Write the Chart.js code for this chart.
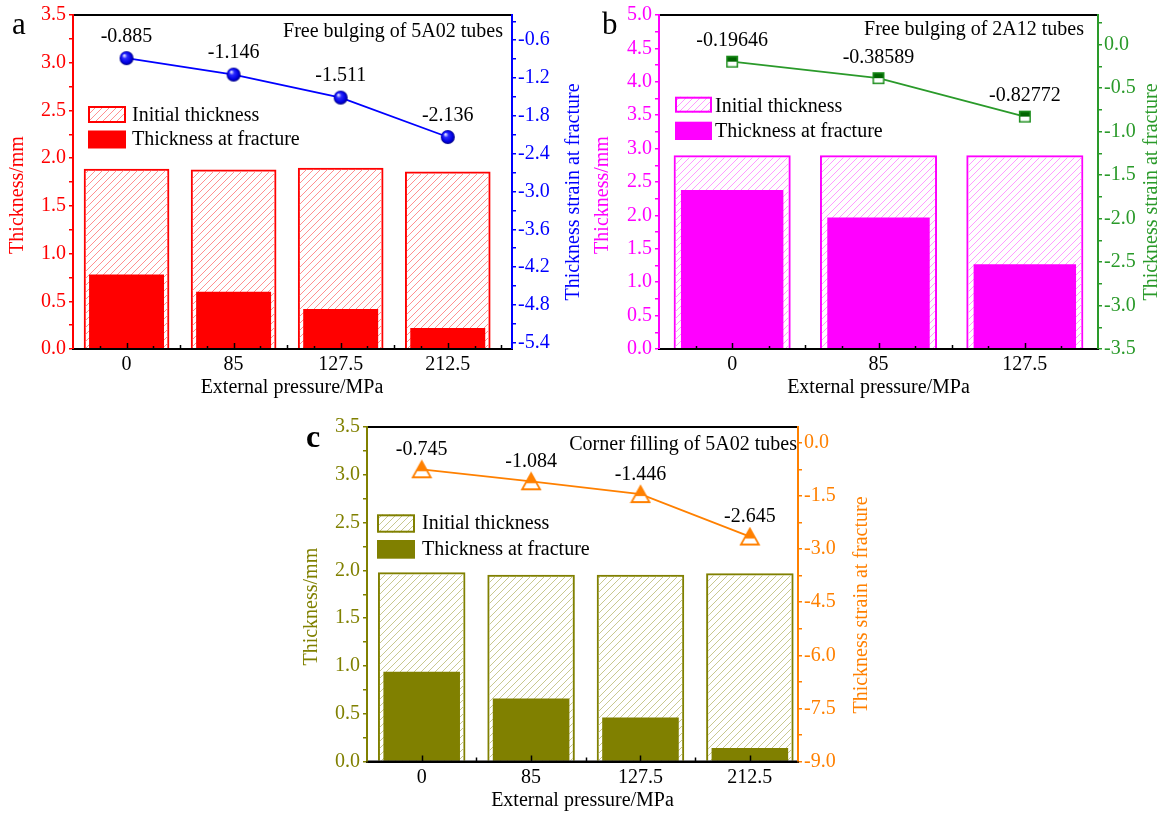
<!DOCTYPE html>
<html>
<head>
<meta charset="utf-8">
<script src="https://cdn.jsdelivr.net/npm/chart.js@4.4.1/dist/chart.umd.min.js"></script>
<style>
  html, body { margin: 0; padding: 0; background: #fff; }
  body { width: 1162px; height: 814px; position: relative; overflow: hidden; }
  canvas { position: absolute; }
</style>
</head>
<body>
<canvas id="ca" width="600" height="400" style="left:0px;top:0px"></canvas>
<canvas id="cb" width="581" height="400" style="left:581px;top:0px"></canvas>
<canvas id="cc" width="600" height="414" style="left:280px;top:400px"></canvas>
<script>
// ---- (a) free bulging of 5A02 tubes ----
const pressuresA = ['0', '85', '127.5', '212.5'];
const initialA = [1.89, 1.88, 1.90, 1.86];
const fractureA = [0.78, 0.60, 0.42, 0.22];
const strainA = [-0.885, -1.146, -1.511, -2.136];
const leftTicksA = [0.0, 0.5, 1.0, 1.5, 2.0, 2.5, 3.0, 3.5];
const rightTicksA = [-5.4, -4.8, -4.2, -3.6, -3.0, -2.4, -1.8, -1.2, -0.6];

// ---- (b) free bulging of 2A12 tubes ----
const pressuresB = ['0', '85', '127.5'];
const initialB = [2.90, 2.90, 2.90];
const fractureB = [2.38, 1.97, 1.27];
const strainB = [-0.19646, -0.38589, -0.82772];
const leftTicksB = [0.0, 0.5, 1.0, 1.5, 2.0, 2.5, 3.0, 3.5, 4.0, 4.5, 5.0];
const rightTicksB = [-3.5, -3.0, -2.5, -2.0, -1.5, -1.0, -0.5, 0.0];

// ---- (c) corner filling of 5A02 tubes ----
const pressuresC = ['0', '85', '127.5', '212.5'];
const initialC = [1.98, 1.955, 1.955, 1.97];
const fractureC = [0.94, 0.66, 0.46, 0.14];
const strainC = [-0.745, -1.084, -1.446, -2.645];
const leftTicksC = [0.0, 0.5, 1.0, 1.5, 2.0, 2.5, 3.0, 3.5];
const rightTicksC = [-9.0, -7.5, -6.0, -4.5, -3.0, -1.5, 0.0];

const SERIF = '"Liberation Serif", "Times New Roman", serif';

// diagonal hatch used for the initial-thickness bars
function hatchPattern(color) {
  const s = 7;
  const c = document.createElement('canvas');
  c.width = s; c.height = s;
  const g = c.getContext('2d');
  g.strokeStyle = color;
  g.lineWidth = 1;
  g.beginPath();
  g.moveTo(0, s); g.lineTo(s, 0);
  g.moveTo(-1, 1); g.lineTo(1, -1);
  g.moveTo(s - 1, s + 1); g.lineTo(s + 1, s - 1);
  g.stroke();
  return g.createPattern(c, 'repeat');
}

// shaded ball marker
function sphereMarker(r) {
  const c = document.createElement('canvas');
  c.width = c.height = 2 * r + 2;
  const g = c.getContext('2d');
  const cx = r + 1, cy = r + 1;
  const grd = g.createRadialGradient(cx - r * 0.35, cy - r * 0.4, r * 0.08, cx, cy, r);
  grd.addColorStop(0, '#e0e0ff');
  grd.addColorStop(0.3, '#2a2aff');
  grd.addColorStop(0.75, '#0000e0');
  grd.addColorStop(1, '#000080');
  g.fillStyle = grd;
  g.beginPath(); g.arc(cx, cy, r, 0, Math.PI * 2); g.fill();
  return c;
}

// square marker, upper half filled
function halfSquare(size, fill, edge) {
  const c = document.createElement('canvas');
  c.width = c.height = size + 2;
  const g = c.getContext('2d');
  g.fillStyle = '#fff'; g.fillRect(1, 1, size, size);
  g.fillStyle = fill; g.fillRect(1, 1, size, size / 2);
  g.strokeStyle = edge; g.lineWidth = 1.5;
  g.strokeRect(1.75, 1.75, size - 1.5, size - 1.5);
  return c;
}

// up triangle marker, upper part filled
function halfTriangle(w, h, color) {
  const c = document.createElement('canvas');
  c.width = w + 4; c.height = h + 4;
  const g = c.getContext('2d');
  const path = () => { g.beginPath(); g.moveTo(w / 2 + 2, 2); g.lineTo(w + 2, h + 2); g.lineTo(2, h + 2); g.closePath(); };
  path(); g.fillStyle = '#fff'; g.fill();
  g.save(); path(); g.clip();
  g.fillStyle = color; g.fillRect(0, 0, w + 4, 2 + h * 0.62);
  g.restore();
  path(); g.strokeStyle = color; g.lineWidth = 1.8; g.lineJoin = 'miter'; g.stroke();
  return c;
}

function withMinor(majors, min, max) {
  const step = majors[1] - majors[0];
  const all = majors.slice();
  majors.forEach(m => all.push(m + step / 2));
  all.push(majors[0] - step / 2);
  return all.filter(v => v >= min - 1e-9 && v <= max + 1e-9).sort((a, b) => a - b);
}
const isMajor = (v, majors) => majors.some(t => Math.abs(t - v) < 1e-6);

const panels = [
  {
    id: 'ca', box: { x: 0, y: 0 }, area: { l: 73, t: 15, r: 512, b: 349 },
    labels: pressuresA, initial: initialA, fracture: fractureA, strain: strainA,
    xMin: -0.5, xMax: 3.6, xMinor: 0.25,
    left: { min: 0, max: 3.5, ticks: leftTicksA, color: '#ff0000' },
    right: { min: -5.5, max: -0.2, ticks: rightTicksA, color: '#0000ff' },
    solid: '#ff0000', hatch: '#ff9090', line: '#0000ff', marker: sphereMarker(7),
    letter: { text: 'a', x: 12, y: 34, bold: false },
    title: { text: 'Free bulging of 5A02 tubes', right: 503, y: 36.5 },
    legend: { x: 88, w: 38, y1: 106, h1: 17, y2: 130.5, h2: 18, tx: 132, b1: 121, b2: 145 },
    leftTitle: { x: 18, y: 195 }, rightTitle: { x: 574, y: 192 }, xTitle: { x: 292, y: 392.5 },
    labelDy: -16.5
  },
  {
    id: 'cb', box: { x: 581, y: 0 }, area: { l: 659, t: 15, r: 1098, b: 349 },
    labels: pressuresB, initial: initialB, fracture: fractureB, strain: strainB,
    xMin: -0.5, xMax: 2.5, xMinor: 0.25,
    left: { min: 0, max: 5.0, ticks: leftTicksB, color: '#ff00ff' },
    right: { min: -3.5, max: 0.34, ticks: rightTicksB, color: '#2a9a2a' },
    solid: '#ff00ff', hatch: '#ff9cff', line: '#2a9a2a', marker: halfSquare(12, '#006400', '#1f8f1f'),
    letter: { text: 'b', x: 602, y: 34, bold: false },
    title: { text: 'Free bulging of 2A12 tubes', right: 1084, y: 35 },
    legend: { x: 675, w: 37, y1: 96.7, h1: 16, y2: 121.7, h2: 18.3, tx: 715, b1: 111.7, b2: 136.7 },
    leftTitle: { x: 603, y: 195 }, rightTitle: { x: 1152, y: 192 }, xTitle: { x: 878.5, y: 392.5 },
    labelDy: -15.5
  },
  {
    id: 'cc', box: { x: 280, y: 400 }, area: { l: 367, t: 427, r: 798, b: 761.5 },
    labels: pressuresC, initial: initialC, fracture: fractureC, strain: strainC,
    xMin: -0.5, xMax: 3.44, xMinor: 0.5,
    left: { min: 0, max: 3.5, ticks: leftTicksC, color: '#808000' },
    right: { min: -9.0, max: 0.45, ticks: rightTicksC, color: '#ff8000' },
    solid: '#808000', hatch: '#c8c890', line: '#ff8000', marker: halfTriangle(18, 16, '#ff8000'),
    letter: { text: 'c', x: 306, y: 447, bold: true },
    title: { text: 'Corner filling of 5A02 tubes', right: 797, y: 450 },
    legend: { x: 377, w: 38, y1: 514.3, h1: 18.4, y2: 540, h2: 18.7, tx: 422, b1: 529.3, b2: 555 },
    leftTitle: { x: 312, y: 606.7 }, rightTitle: { x: 862, y: 605 }, xTitle: { x: 582.5, y: 806 },
    labelDy: -14.5
  }
];

function decor(p) {
  const ox = p.box.x, oy = p.box.y;
  const seg = (ctx, x1, y1, x2, y2) => { ctx.beginPath(); ctx.moveTo(x1, y1); ctx.lineTo(x2, y2); ctx.stroke(); };
  return {
    id: 'decor_' + p.id,
    afterDatasetsDraw(chart) {
      const ctx = chart.ctx, ca = chart.chartArea, xs = chart.scales.x;
      ctx.save();
      // inward ticks on the pressure axis
      ctx.strokeStyle = '#000';
      ctx.lineWidth = 1.5;
      ctx.lineCap = 'butt';
      for (let k = 1; ; k++) {
        const v = xs.min + k * p.xMinor;
        if (v >= xs.max - 1e-6) break;
        const frac = Math.abs(v - Math.round(v));
        const len = frac < 1e-6 ? 6 : (Math.abs(frac - 0.5) < 1e-6 ? 4 : 3);
        const px = Math.round(xs.getPixelForValue(v)) + 0.5;
        seg(ctx, px, ca.bottom, px, ca.bottom - len);
      }
      // frame
      ctx.lineWidth = 2;
      ctx.strokeStyle = '#000';
      seg(ctx, ca.left, ca.top, ca.right, ca.top);
      seg(ctx, ca.left - 1, ca.bottom, ca.right + 1, ca.bottom);
      ctx.strokeStyle = p.left.color;
      seg(ctx, ca.left, ca.top - 1, ca.left, ca.bottom);
      ctx.strokeStyle = p.right.color;
      seg(ctx, ca.right, ca.top - 1, ca.right, ca.bottom);
      ctx.restore();
    },
    afterDraw(chart) {
      const ctx = chart.ctx;
      const font = (s, b) => (b ? 'bold ' : '') + s + 'px ' + SERIF;
      ctx.save();
      ctx.textBaseline = 'alphabetic';

      // panel letter
      ctx.fillStyle = '#000';
      ctx.textAlign = 'left';
      ctx.font = font(p.letter.bold ? 32 : 31, p.letter.bold);
      ctx.fillText(p.letter.text, p.letter.x - ox, p.letter.y - oy);

      // inset title
      ctx.font = font(20);
      ctx.textAlign = 'right';
      ctx.fillText(p.title.text, p.title.right - ox, p.title.y - oy);

      // legend
      const L = p.legend;
      const bars = chart.data.datasets;
      ctx.fillStyle = bars[2].backgroundColor;
      ctx.fillRect(L.x - ox, L.y1 - oy, L.w, L.h1);
      ctx.strokeStyle = p.solid;
      ctx.lineWidth = 2;
      ctx.strokeRect(L.x - ox + 1, L.y1 - oy + 1, L.w - 2, L.h1 - 2);
      ctx.fillStyle = p.solid;
      ctx.fillRect(L.x - ox, L.y2 - oy, L.w, L.h2);
      ctx.fillStyle = '#000';
      ctx.textAlign = 'left';
      ctx.fillText(bars[2].label, L.tx - ox, L.b1 - oy);
      ctx.fillText(bars[1].label, L.tx - ox, L.b2 - oy);

      // strain values above the points
      ctx.textAlign = 'center';
      const meta = chart.getDatasetMeta(0);
      meta.data.forEach((pt, i) => {
        ctx.fillText(String(p.strain[i]), pt.x, pt.y + p.labelDy);
      });

      // axis titles
      ctx.textAlign = 'center';
      ctx.fillText('External pressure/MPa', p.xTitle.x - ox, p.xTitle.y - oy);
      ctx.textBaseline = 'middle';
      ctx.save();
      ctx.translate(p.leftTitle.x - ox, p.leftTitle.y - oy);
      ctx.rotate(-Math.PI / 2);
      ctx.fillStyle = p.left.color;
      ctx.fillText('Thickness/mm', 0, 0);
      ctx.restore();
      ctx.save();
      ctx.translate(p.rightTitle.x - ox, p.rightTitle.y - oy);
      ctx.rotate(-Math.PI / 2);
      ctx.fillStyle = p.right.color;
      ctx.fillText('Thickness strain at fracture', 0, 0);
      ctx.restore();
      ctx.restore();
    }
  };
}

function build(p) {
  const cv = document.getElementById(p.id);
  const W = cv.width, H = cv.height;
  const A = { l: p.area.l - p.box.x, t: p.area.t - p.box.y, r: p.area.r - p.box.x, b: p.area.b - p.box.y };
  const idx = p.labels.map((_, i) => i);
  const axisFont = { family: SERIF, size: 20 };

  const yAxis = (side, cfg, width) => ({
    type: 'linear', position: side, min: cfg.min, max: cfg.max,
    afterBuildTicks: s => { s.ticks = withMinor(cfg.ticks, cfg.min, cfg.max).map(v => ({ value: v })); },
    afterFit: s => { s.width = width; },
    ticks: {
      callback: v => isMajor(v, cfg.ticks) ? v.toFixed(1) : '',
      color: cfg.color, font: axisFont, padding: side === 'left' ? 3 : 2, autoSkip: false
    },
    grid: { display: true, drawOnChartArea: false, drawTicks: true, tickLength: 4, color: cfg.color, lineWidth: 1.5 },
    border: { display: true, color: cfg.color, width: 2 }
  });

  return new Chart(cv, {
    type: 'bar',
    data: {
      datasets: [
        {
          type: 'line', label: 'Thickness strain at fracture', yAxisID: 'y2', order: 0,
          data: idx.map(i => ({ x: i, y: p.strain[i] })),
          borderColor: p.line, borderWidth: 1.8, tension: 0, fill: false,
          pointStyle: p.marker, pointRadius: 8, pointHoverRadius: 8, clip: false
        },
        {
          label: 'Thickness at fracture', yAxisID: 'y', order: 1, grouped: false,
          data: idx.map(i => ({ x: i, y: p.fracture[i] })),
          backgroundColor: p.solid, borderWidth: 0,
          categoryPercentage: 1, barPercentage: 0.7
        },
        {
          label: 'Initial thickness', yAxisID: 'y', order: 2, grouped: false,
          data: idx.map(i => ({ x: i, y: p.initial[i] })),
          backgroundColor: hatchPattern(p.hatch), borderColor: p.solid, borderWidth: 2,
          categoryPercentage: 1, barPercentage: 0.8
        }
      ]
    },
    options: {
      responsive: false, animation: false, events: [],
      layout: { padding: { top: A.t, left: 0, right: 0, bottom: 0 } },
      plugins: { legend: { display: false }, tooltip: { enabled: false }, title: { display: false } },
      scales: {
        x: {
          type: 'linear', position: 'bottom', min: p.xMin, max: p.xMax, offset: false,
          afterBuildTicks: s => { s.ticks = idx.map(i => ({ value: i })); },
          afterFit: s => { s.height = H - A.b; },
          ticks: {
            callback: v => p.labels[v] !== undefined ? p.labels[v] : '',
            color: '#000', font: { family: SERIF, size: 20 }, padding: 4, autoSkip: false, maxRotation: 0
          },
          grid: { display: false, drawTicks: false },
          border: { display: true, color: '#000', width: 2 }
        },
        y: yAxis('left', p.left, A.l),
        y2: yAxis('right', p.right, W - A.r)
      }
    },
    plugins: [decor(p)]
  });
}

panels.forEach(build);
</script>
</body>
</html>
